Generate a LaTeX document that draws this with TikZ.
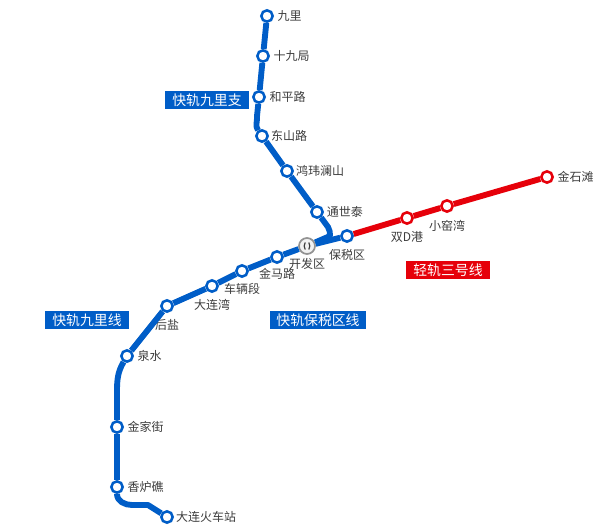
\documentclass[tikz,border=0pt]{standalone}
\usepackage{fontspec}
\setmainfont{Noto Sans CJK SC}
\definecolor{kuaigui}{RGB}{0,93,199}
\definecolor{qinggui}{RGB}{230,0,10}
\definecolor{zhanming}{RGB}{60,60,60}
\tikzset{
  zhan/.style={draw=#1, circle, fill=white, line width=1.9pt, minimum size=8.5pt, inner sep=0pt},
  zhan/.default=kuaigui,
  mingzi/.style={font=\fontsize{9}{9}\selectfont, text=zhanming, inner sep=0pt},
  xianlu/.style={draw=#1, line width=4.4pt, line join=round},
  xianlu/.default=kuaigui,
  paizi/.style={fill=#1, text=white, font=\fontsize{10.4}{11}\selectfont, minimum width=63pt, minimum height=13.5pt, inner sep=0pt},
  paizi/.default=kuaigui,
}
\begin{document}
\begin{tikzpicture}[x=0.75pt, y=-0.75pt, every label/.style={mingzi}]
\useasboundingbox (0,0) rectangle (616,530);
\node[zhan, label={[label distance=2.5pt] right:九里}](jiuli) at (267,16){};
\node[zhan, label={[label distance=2.5pt] right:十九局}](shijiuju) at (263,56){};
\node[zhan, label={[label distance=2.5pt] right:和平路}](heping) at (259,97){};
\node[zhan, label={[label distance=1.5pt] right:东山路}](dongshan) at (262,136){};
\node[zhan, label={[label distance=1.5pt] right:鸿玮澜山}](hongwei) at (287,171){};
\node[zhan, label={[label distance=2pt] right:通世泰}](tongshi) at (317,212){};
\node[draw=gray!85, fill=gray!10, circle, line width=1.3pt, minimum size=12pt, inner sep=0pt, label={[label distance=2.5pt] below:开发区}](kaifa) at (307,246){};
\node[zhan, label={[label distance=5pt] below:保税区}](baoshui) at (347,236){};
\node[zhan=qinggui, label={[label distance=4.5pt] below:双D港}](shuangd) at (407,218){};
\node[zhan=qinggui, label={[label distance=5.5pt] below:小窑湾}](xiaoyao) at (447,206){};
\node[zhan=qinggui, label={[label distance=2.5pt] right:金石滩}](jinshi) at (547,177){};
\node[zhan, label={[label distance=3pt] below:金马路}](jinma) at (277,257){};
\node[zhan, label={[label distance=3.5pt] below:车辆段}](cheliang) at (242,271){};
\node[zhan, label={[label distance=4.5pt] below:大连湾}](dalianwan) at (212,286){};
\node[zhan, label={[label distance=5pt] below:后盐}](houyan) at (167,306){};
\node[zhan, label={[label distance=2.5pt] right:泉水}](quanshui) at (127,356){};
\node[zhan, label={[label distance=2.5pt] right:金家街}](jinjia) at (117,427){};
\node[zhan, label={[label distance=2.5pt] right:香炉礁}](xianglu) at (117,487){};
\node[zhan, label={[label distance=1.5pt] right:大连火车站}](huoche) at (167,517){};
\coordinate (guai) at (330,236);
\draw[xianlu] (jiuli) -- (shijiuju);
\draw[xianlu] (shijiuju) -- (heping);
\draw[xianlu] (heping) -- (257,116) to[out=-85,in=125] (dongshan);
\draw[xianlu] (dongshan) -- (hongwei);
\draw[xianlu] (hongwei) -- (tongshi);
\draw[xianlu] (tongshi) -- (328,227) to[out=-60,in=90] (guai) -- (kaifa);
\draw[xianlu] (kaifa) -- (baoshui);
\draw[xianlu] (kaifa) -- (jinma);
\draw[xianlu] (jinma) -- (cheliang);
\draw[xianlu] (cheliang) -- (dalianwan);
\draw[xianlu] (dalianwan) -- (houyan);
\draw[xianlu] (houyan) -- (quanshui);
\draw[xianlu] (quanshui) to[out=-120,in=90] (117,392) -- (jinjia);
\draw[xianlu] (jinjia) -- (xianglu);
\draw[xianlu] (xianglu) -- (117,494) to[out=-90,in=180] (132,505) -- (148,505) -- (huoche);
\draw[xianlu=qinggui] (baoshui) -- (shuangd);
\draw[xianlu=qinggui] (shuangd) -- (xiaoyao);
\draw[xianlu=qinggui] (xiaoyao) -- (jinshi);
\draw[zhanming, line width=.9pt] (kaifa.center) ++(-1.8,-3.5) to[bend right=30] ++(0,7);
\draw[zhanming, line width=.9pt] (kaifa.center) ++(1.8,-3.5) to[bend left=30] ++(0,7);
\node[paizi](zhixian) at (207,100){快轨九里支};
\node[paizi](jiulixian) at (87,320){快轨九里线};
\node[paizi, minimum width=72pt](baoshuixian) at (318,320){快轨保税区线};
\node[paizi=qinggui](sanhao) at (448,270){轻轨三号线};
\end{tikzpicture}
\end{document}
